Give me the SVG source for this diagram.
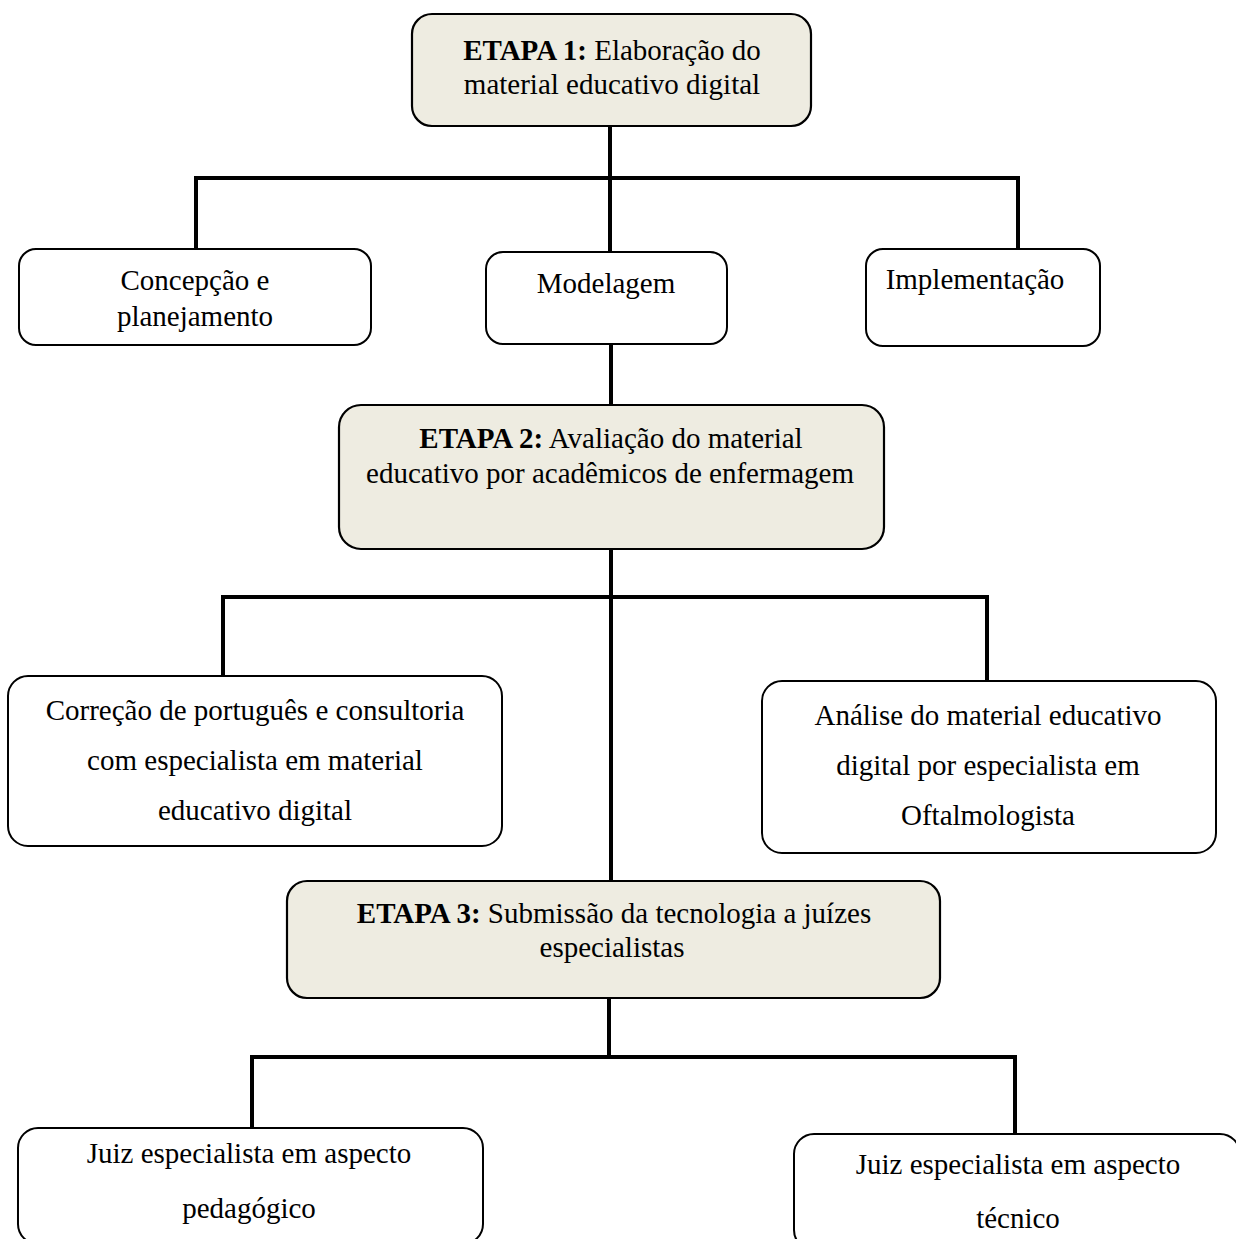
<svg xmlns="http://www.w3.org/2000/svg" width="1236" height="1239" viewBox="0 0 1236 1239">
<style>
.box{fill:#ffffff;stroke:#000;stroke-width:2}
.stage{fill:#EEECE1;stroke:#000;stroke-width:2.2}
.line{fill:none;stroke:#000;stroke-width:4;stroke-linecap:butt}
text{font-family:"Liberation Serif","Times New Roman",serif;font-size:29px;fill:#000;text-anchor:middle}
.b{font-weight:bold}
</style>
<rect width="1236" height="1239" fill="#ffffff"/>
<g id="connectors">
<line class="line" x1="610" y1="126" x2="610" y2="252"/>
<line class="line" x1="194" y1="178" x2="1020" y2="178"/>
<line class="line" x1="196" y1="178" x2="196" y2="249"/>
<line class="line" x1="1018" y1="178" x2="1018" y2="250"/>
<line class="line" x1="611" y1="344" x2="611" y2="405"/>
<line class="line" x1="611" y1="549" x2="611" y2="881"/>
<line class="line" x1="221" y1="597" x2="989" y2="597"/>
<line class="line" x1="223" y1="597" x2="223" y2="676"/>
<line class="line" x1="987" y1="597" x2="987" y2="681"/>
<line class="line" x1="609" y1="998" x2="609" y2="1057"/>
<line class="line" x1="250" y1="1057" x2="1017" y2="1057"/>
<line class="line" x1="252" y1="1057" x2="252" y2="1128"/>
<line class="line" x1="1015" y1="1057" x2="1015" y2="1134"/>
</g>
<g id="etapa1">
<rect class="stage" x="412" y="14" width="399" height="112" rx="20"/>
<text x="612" y="60"><tspan class="b">ETAPA 1:</tspan> Elaboração do</text>
<text x="612" y="94">material educativo digital</text>
</g>
<g id="concepcao">
<rect class="box" x="19" y="249" width="352" height="96" rx="17"/>
<text x="195" y="290">Concepção e</text>
<text x="195" y="326">planejamento</text>
</g>
<g id="modelagem">
<rect class="box" x="486" y="252" width="241" height="92" rx="17"/>
<text x="606" y="293">Modelagem</text>
</g>
<g id="implementacao">
<rect class="box" x="866" y="249" width="234" height="97" rx="17"/>
<text x="975" y="289">Implementação</text>
</g>
<g id="etapa2">
<rect class="stage" x="339" y="405" width="545" height="144" rx="22"/>
<text x="611" y="448"><tspan class="b">ETAPA 2:</tspan> Avaliação do material</text>
<text x="610" y="483">educativo por acadêmicos de enfermagem</text>
</g>
<g id="correcao">
<rect class="box" x="8" y="676" width="494" height="170" rx="20"/>
<text x="255" y="720">Correção de português e consultoria</text>
<text x="255" y="770">com especialista em material</text>
<text x="255" y="820">educativo digital</text>
</g>
<g id="analise">
<rect class="box" x="762" y="681" width="454" height="172" rx="20"/>
<text x="988" y="725">Análise do material educativo</text>
<text x="988" y="775">digital por especialista em</text>
<text x="988" y="825">Oftalmologista</text>
</g>
<g id="etapa3">
<rect class="stage" x="287" y="881" width="653" height="117" rx="20"/>
<text x="614" y="923"><tspan class="b">ETAPA 3:</tspan> Submissão da tecnologia a juízes</text>
<text x="612" y="957">especialistas</text>
</g>
<g id="juiz-pedagogico">
<rect class="box" x="18" y="1128" width="465" height="116" rx="20"/>
<text x="249" y="1163">Juiz especialista em aspecto</text>
<text x="249" y="1218">pedagógico</text>
</g>
<g id="juiz-tecnico">
<rect class="box" x="794" y="1134" width="446" height="116" rx="20"/>
<text x="1018" y="1174">Juiz especialista em aspecto</text>
<text x="1018" y="1228">técnico</text>
</g>
</svg>
